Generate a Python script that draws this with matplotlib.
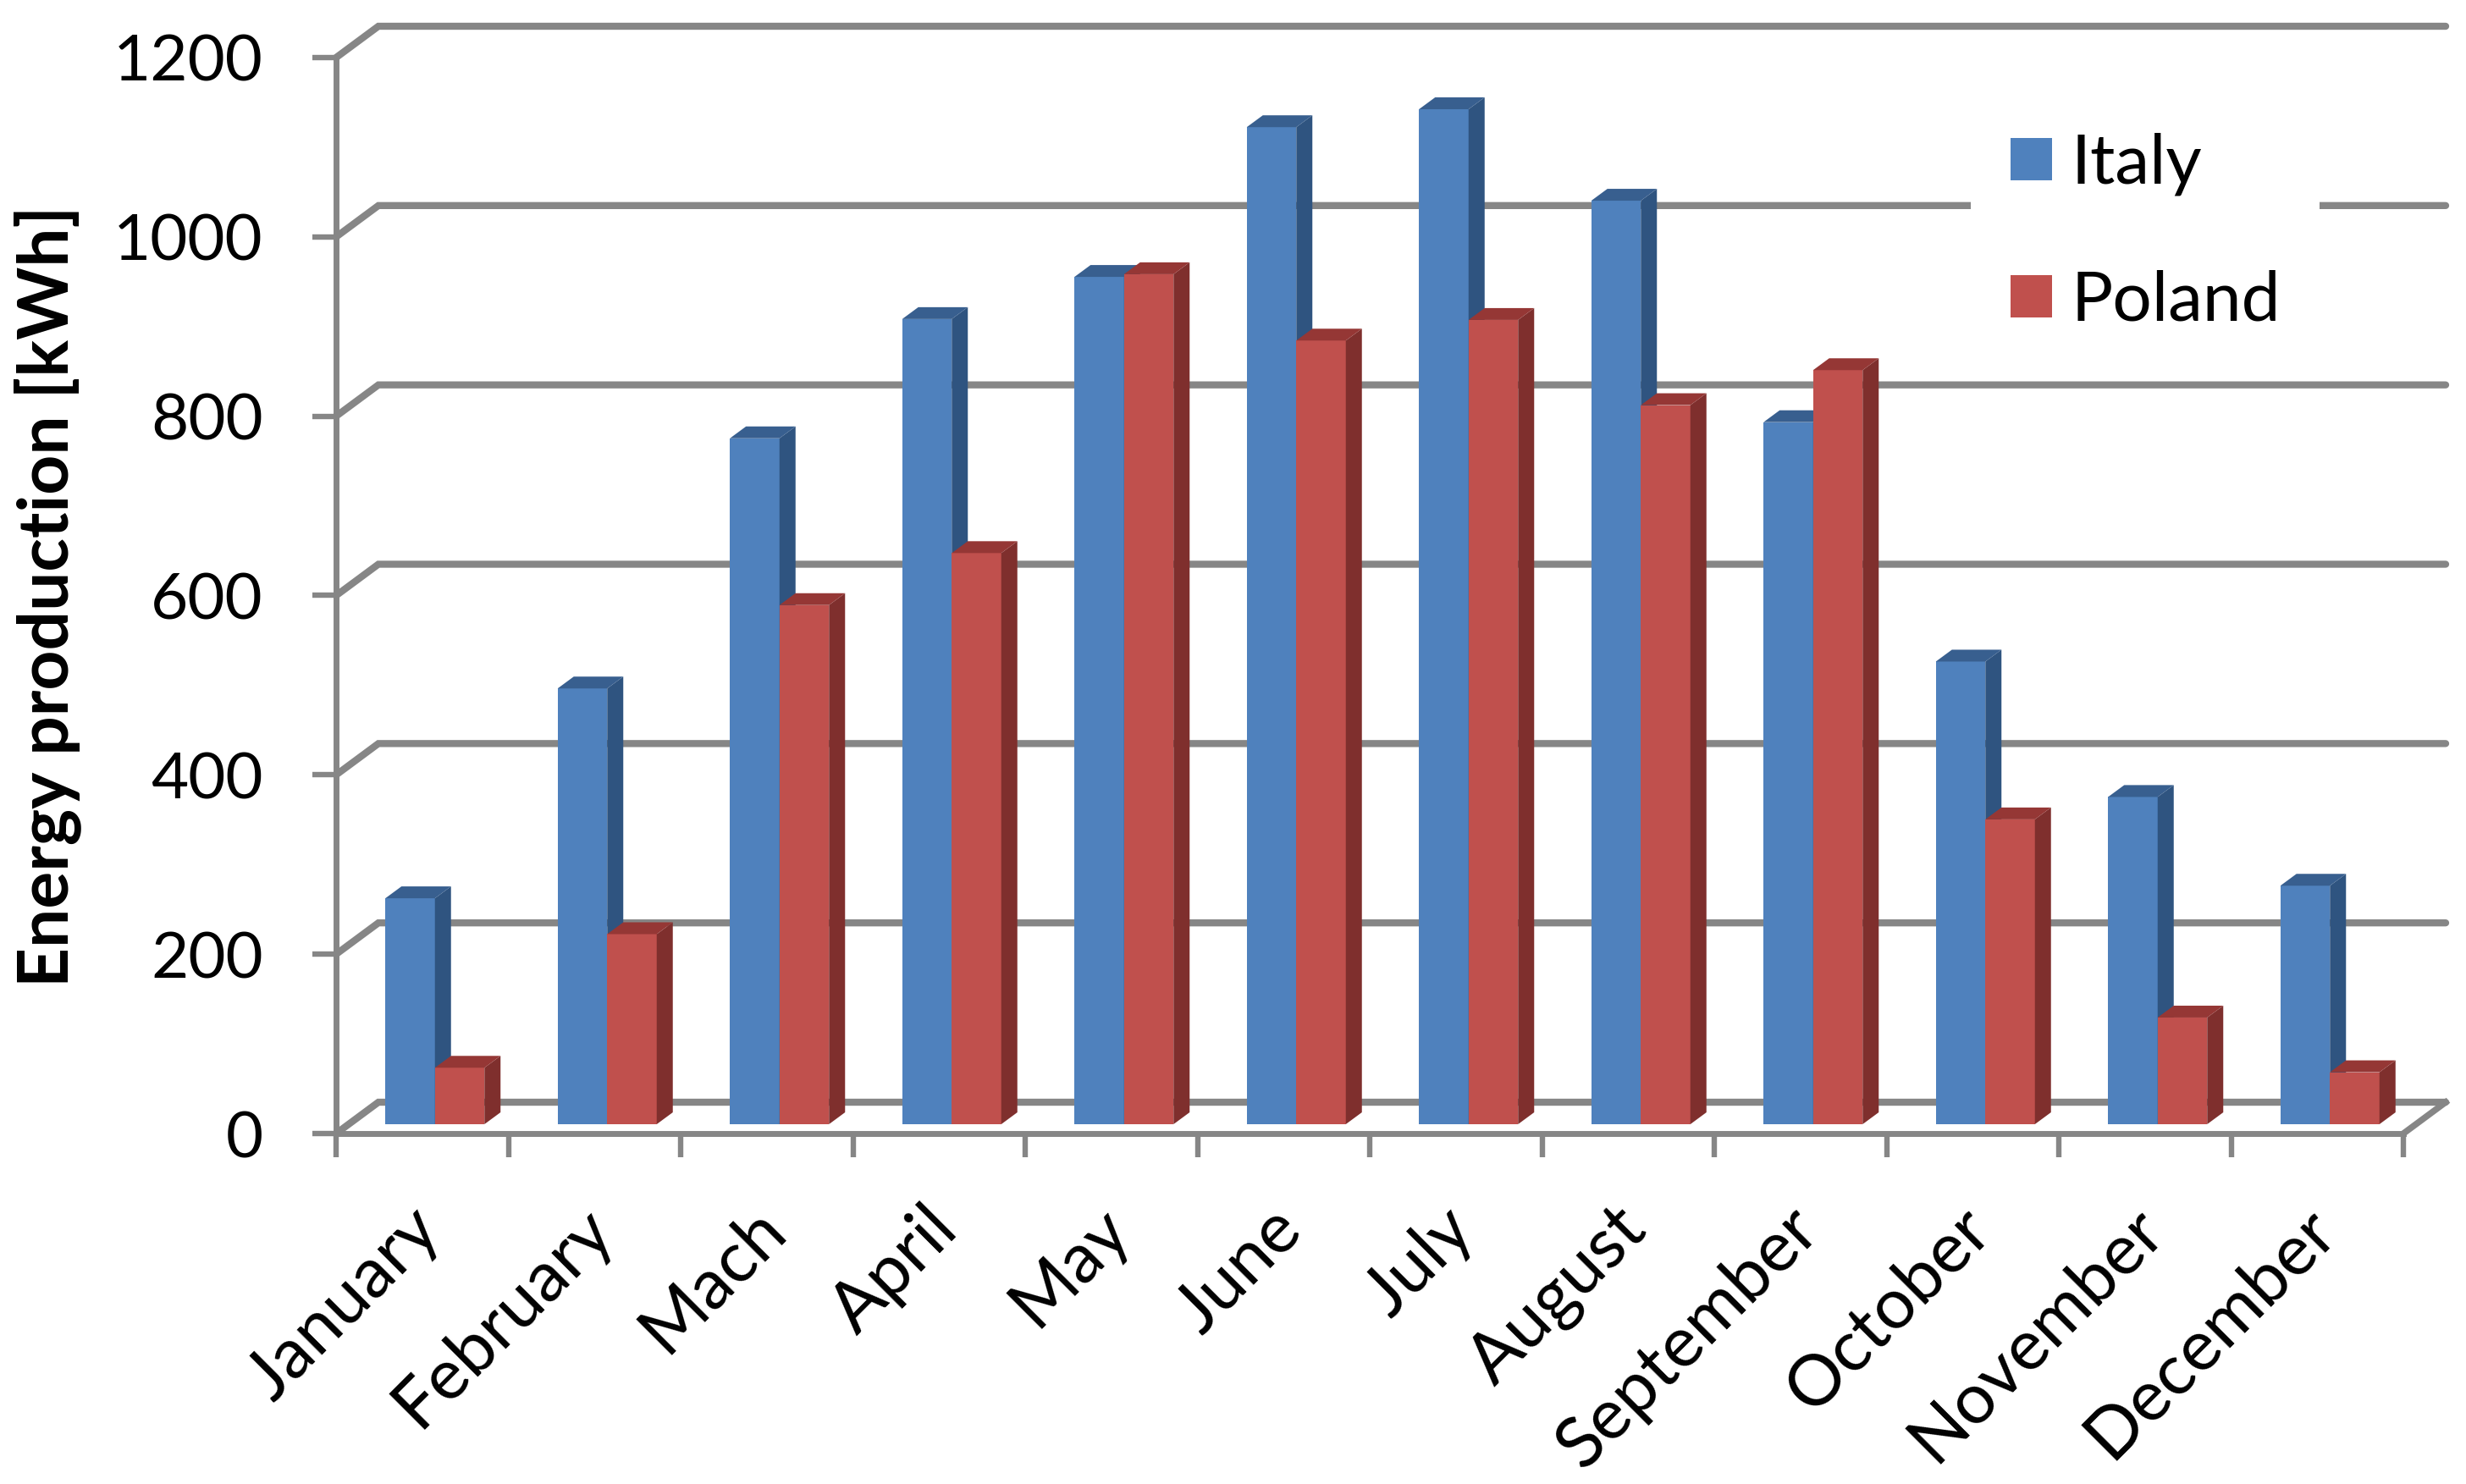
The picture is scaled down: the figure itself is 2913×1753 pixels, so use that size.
# -*- coding: utf-8 -*-
"""Energy production per month, Italy vs Poland, in the old Excel 3D column look."""
import matplotlib
matplotlib.use("Agg")
import matplotlib.pyplot as plt
from matplotlib.patches import Patch, Polygon

months = ["January", "February", "Mach", "April", "May", "June", "July",
          "August", "September", "October", "November", "December"]
italy = [252, 486, 765, 898, 945, 1112, 1132, 1030, 783, 516, 365, 266]
poland = [63, 212, 579, 637, 948, 874, 897, 802, 841, 340, 119, 58]
y_ticks = [0, 200, 400, 600, 800, 1000, 1200]

W, H = 2913, 1753
X0, X1, Y0, Y1 = 397, 2839, 1339, 68  # front plane of the axes, in pixels
GREY = "#868686"
BLUE, BLUE_SIDE, BLUE_TOP = "#4F81BD", "#2F5480", "#385F8F"
RED, RED_SIDE, RED_TOP = "#C0504D", "#7F2F2D", "#953735"

px_x = 12 / (X1 - X0)
px_y = 1200 / (Y0 - Y1)
DEPTH_X, DEPTH_Y = 50 * px_x, 37 * px_y     # wall depth
SHIFT_X, SHIFT_Y = 15 * px_x, 11 * px_y     # bars stand a bit behind the front
BAR_DX, BAR_DY = 19 * px_x, 14 * px_y       # depth of a bar
BAR_W = 58.5 * px_x
LABEL_SHIFT = 18 * px_x                     # month labels sit left of the centre

plt.rcParams["font.family"] = ["Lato", "DejaVu Sans"]
fig = plt.figure(figsize=(W / 100, H / 100), dpi=100, facecolor="white")
ax = fig.add_axes([X0 / W, 1 - Y0 / H, (X1 - X0) / W, (Y0 - Y1) / H])
ax.set_xlim(0, 12)
ax.set_ylim(0, 1200)
ax.patch.set_visible(False)

for s in ("top", "right"):
    ax.spines[s].set_visible(False)
for s in ("left", "bottom"):
    ax.spines[s].set_color(GREY)
    ax.spines[s].set_linewidth(5.0)
    ax.spines[s].set_zorder(1)

# walls: diagonal from the front axis and the long line at the back
for v in y_ticks:
    ax.plot([0, DEPTH_X, 12 + DEPTH_X], [v, v + DEPTH_Y, v + DEPTH_Y], color=GREY,
            lw=6.0, clip_on=False, zorder=1, solid_capstyle="round",
            solid_joinstyle="miter")
ax.plot([12, 12 + DEPTH_X], [0, DEPTH_Y], color=GREY, lw=5.4, clip_on=False, zorder=1)


def column(left, value, front, side, top):
    base = SHIFT_Y
    h = base + value
    right = left + BAR_W
    ax.bar(left, value, BAR_W, bottom=base, align="edge", color=front,
           linewidth=0, zorder=3)
    ax.add_patch(Polygon([(right, base), (right + BAR_DX, base + BAR_DY),
                          (right + BAR_DX, h + BAR_DY), (right, h)],
                         facecolor=side, linewidth=0, zorder=3, clip_on=False))
    ax.add_patch(Polygon([(left, h), (right, h), (right + BAR_DX, h + BAR_DY),
                          (left + BAR_DX, h + BAR_DY)],
                         facecolor=top, linewidth=0, zorder=3, clip_on=False))


for i in range(len(months)):
    centre = i + 0.5 + SHIFT_X
    column(centre - BAR_W, italy[i], BLUE, BLUE_SIDE, BLUE_TOP)
    column(centre, poland[i], RED, RED_SIDE, RED_TOP)

ax.set_yticks(y_ticks)
ax.set_xticks(range(13))
ax.set_xticklabels([])
ax.set_xticks([i + 0.5 - LABEL_SHIFT for i in range(12)], months, minor=True)
ax.tick_params(axis="y", length=20, width=4.6, color=GREY, pad=42, labelsize=55,
               labelcolor="black")
ax.tick_params(axis="x", which="major", length=20, width=4.6, color=GREY)
ax.tick_params(axis="x", which="minor", length=0, pad=53, labelsize=60)
for lab in ax.get_xticklabels(minor=True):
    lab.set_rotation(45)
    lab.set_ha("right")
    lab.set_va("top")
    lab.set_rotation_mode("anchor")

fig.text(56 / W, 1 - 704 / H, "Energy production [kWh]", rotation=90, ha="center",
         va="center", fontsize=59, fontweight="bold", color="black")

handles = [Patch(facecolor=BLUE, label="Italy"), Patch(facecolor=RED, label="Poland")]
leg = ax.legend(handles=handles, loc="upper left", frameon=True, fontsize=59,
                bbox_to_anchor=((2328 - X0) / (X1 - X0), (Y0 - 110) / (Y0 - Y1)),
                borderaxespad=0, handlelength=0.6, handleheight=0.56,
                handletextpad=0.27, labelspacing=1.07, borderpad=0.57)
leg.get_frame().set_facecolor("white")
leg.get_frame().set_edgecolor("none")
leg.get_frame().set_alpha(1)
leg.set_zorder(2)

fig.savefig("out.png", dpi=100)
